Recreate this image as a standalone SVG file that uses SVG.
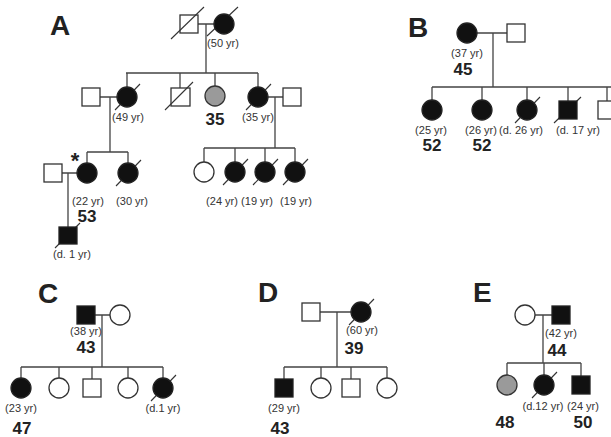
<svg xmlns="http://www.w3.org/2000/svg" width="611" height="437" viewBox="0 0 611 437">
<style>
.l{stroke:#444;stroke-width:1.3;fill:none}
.o{fill:#fff;stroke:#333;stroke-width:1.3}
.f{fill:#111;stroke:#222;stroke-width:1.3}
.g{fill:#9a9a9a;stroke:#333;stroke-width:1.3}
.s{stroke:#333;stroke-width:1.1}
.a{font-family:"Liberation Sans",Arial,sans-serif;font-size:11px;fill:#333;text-anchor:middle}
.n{font-family:"Liberation Sans",Arial,sans-serif;font-size:17px;font-weight:bold;fill:#222;text-anchor:middle}
.p{font-family:"Liberation Sans",Arial,sans-serif;font-size:28px;font-weight:bold;fill:#222}
</style>
<rect width="611" height="437" fill="#fff"/>
<g id="connectors">
<path class="l" d="M198 24H214M206 24V73M126 73H258M127 73V87M180 73V88M215 73V86M258 73V87"/>
<path class="l" d="M100 97H117M110 97V152M87 152H128M87 152V163M128 152V163"/>
<path class="l" d="M268 97H283M275 97V148M204 148H295M204 148V162M235 148V162M265 148V162M295 148V162"/>
<path class="l" d="M62 173H77M68 173V227"/>
<path class="l" d="M477 33H507M493 33V87M432 87H611M432 87V100M482 87V100M527 87V100M568 87V101M607 87V101"/>
<path class="l" d="M95 315H110M102 315V367M21 367H163M21 367V378M59 367V378M92 367V379M128 367V378M163 367V378"/>
<path class="l" d="M320 312H351M337 312V367M284 367H387M284 367V379M321 367V378M351 367V379M387 367V378"/>
<path class="l" d="M535 315H552M543 315V363M507 363H581M507 363V375M544 363V375M581 363V376"/>
</g>
<g id="labels">
<text class="p" x="50" y="35">A</text>
<text class="p" x="408" y="37">B</text>
<text class="p" x="38" y="303">C</text>
<text class="p" x="258" y="302">D</text>
<text class="p" x="473" y="302">E</text>
</g>
<g id="A-I1"><rect class="o" x="180" y="15" width="18" height="18"/><line class="s" x1="171" y1="39" x2="204" y2="7"/></g>
<g id="A-I2"><line class="s" x1="207" y1="36" x2="238" y2="7"/><circle class="f" cx="224" cy="24" r="10"/><text class="a" x="223" y="47">(50 yr)</text></g>
<g id="A-II0"><rect class="o" x="82" y="88" width="18" height="18"/></g>
<g id="A-II1"><line class="s" x1="115" y1="110" x2="140" y2="84"/><circle class="f" cx="127" cy="97" r="10"/><text class="a" x="128" y="121">(49 yr)</text></g>
<g id="A-II2"><rect class="o" x="171" y="88" width="19" height="18"/><line class="s" x1="165" y1="110" x2="193" y2="82"/></g>
<g id="A-II3"><circle class="g" cx="215" cy="96" r="10"/><text class="n" x="215" y="125">35</text></g>
<g id="A-II4"><line class="s" x1="246" y1="110" x2="271" y2="84"/><circle class="f" cx="258" cy="97" r="10"/><text class="a" x="258" y="121">(35 yr)</text></g>
<g id="A-II5"><rect class="o" x="283" y="88" width="18" height="18"/></g>
<g id="A-III0"><rect class="o" x="44" y="164" width="18" height="18"/></g>
<g id="A-III1"><circle class="f" cx="87" cy="173" r="10"/><text x="75" y="168" font-family="Liberation Sans,Arial,sans-serif" font-size="22" font-weight="bold" fill="#222" text-anchor="middle">*</text><text class="a" x="88" y="205">(22 yr)</text><text class="n" x="87" y="222">53</text></g>
<g id="A-III2"><line class="s" x1="116" y1="186" x2="141" y2="160"/><circle class="f" cx="128" cy="173" r="10"/><text class="a" x="132" y="205">(30 yr)</text></g>
<g id="A-III3"><circle class="o" cx="204" cy="172" r="10"/></g>
<g id="A-III4"><line class="s" x1="223" y1="185" x2="248" y2="159"/><circle class="f" cx="235" cy="172" r="10"/><text class="a" x="222" y="205">(24 yr)</text></g>
<g id="A-III5"><line class="s" x1="253" y1="185" x2="278" y2="159"/><circle class="f" cx="265" cy="172" r="10"/><text class="a" x="257" y="205">(19 yr)</text></g>
<g id="A-III6"><line class="s" x1="283" y1="185" x2="308" y2="159"/><circle class="f" cx="295" cy="172" r="10"/><text class="a" x="296" y="205">(19 yr)</text></g>
<g id="A-IV1"><line class="s" x1="55" y1="248" x2="80" y2="223"/><rect class="f" x="59" y="227" width="18" height="17"/><text class="a" x="72" y="258">(d. 1 yr)</text></g>
<g id="B-I1"><circle class="f" cx="467" cy="33" r="10"/><text class="a" x="467" y="57">(37 yr)</text><text class="n" x="463" y="75">45</text></g>
<g id="B-I2"><rect class="o" x="507" y="24" width="18" height="18"/></g>
<g id="B-II1"><circle class="f" cx="432" cy="110" r="10"/><text class="a" x="431" y="134">(25 yr)</text><text class="n" x="432" y="151">52</text></g>
<g id="B-II2"><circle class="f" cx="482" cy="110" r="10"/><text class="a" x="481" y="134">(26 yr)</text><text class="n" x="482" y="151">52</text></g>
<g id="B-II3"><line class="s" x1="515" y1="123" x2="540" y2="97"/><circle class="f" cx="527" cy="110" r="10"/><text class="a" x="521" y="134">(d. 26 yr)</text></g>
<g id="B-II4"><line class="s" x1="554" y1="123" x2="581" y2="97"/><rect class="f" x="559" y="101" width="18" height="18"/><text class="a" x="578" y="134">(d. 17 yr)</text></g>
<g id="B-II5"><rect class="o" x="598" y="101" width="18" height="18"/></g>
<g id="C-I1"><rect class="f" x="77" y="306" width="18" height="18"/><text class="a" x="86" y="335">(38 yr)</text><text class="n" x="86" y="353">43</text></g>
<g id="C-I2"><circle class="o" cx="120" cy="315" r="10"/></g>
<g id="C-II1"><circle class="f" cx="21" cy="388" r="10"/><text class="a" x="21" y="412">(23 yr)</text><text class="n" x="22" y="434">47</text></g>
<g id="C-II2"><circle class="o" cx="59" cy="388" r="10"/></g>
<g id="C-II3"><rect class="o" x="83" y="379" width="18" height="18"/></g>
<g id="C-II4"><circle class="o" cx="128" cy="388" r="10"/></g>
<g id="C-II5"><line class="s" x1="151" y1="401" x2="176" y2="375"/><circle class="f" cx="163" cy="388" r="10"/><text class="a" x="163" y="412">(d.1 yr)</text></g>
<g id="D-I1"><rect class="o" x="302" y="303" width="18" height="18"/></g>
<g id="D-I2"><line class="s" x1="349" y1="325" x2="374" y2="299"/><circle class="f" cx="361" cy="312" r="10"/><text class="a" x="362" y="334">(60 yr)</text><text class="n" x="354" y="354">39</text></g>
<g id="D-II1"><rect class="f" x="275" y="379" width="18" height="18"/><text class="a" x="284" y="412">(29 yr)</text><text class="n" x="280" y="434">43</text></g>
<g id="D-II2"><circle class="o" cx="321" cy="388" r="10"/></g>
<g id="D-II3"><rect class="o" x="342" y="379" width="18" height="18"/></g>
<g id="D-II4"><circle class="o" cx="387" cy="388" r="10"/></g>
<g id="E-I1"><circle class="o" cx="525" cy="315" r="10"/></g>
<g id="E-I2"><rect class="f" x="552" y="306" width="18" height="18"/><text class="a" x="561" y="337">(42 yr)</text><text class="n" x="557" y="356">44</text></g>
<g id="E-II1"><circle class="g" cx="507" cy="385" r="10"/><text class="n" x="505" y="428">48</text></g>
<g id="E-II2"><line class="s" x1="532" y1="398" x2="557" y2="372"/><circle class="f" cx="544" cy="385" r="10"/><text class="a" x="543" y="410">(d.12 yr)</text></g>
<g id="E-II3"><rect class="f" x="572" y="376" width="18" height="18"/><text class="a" x="583" y="410">(24 yr)</text><text class="n" x="583" y="428">50</text></g>
</svg>
